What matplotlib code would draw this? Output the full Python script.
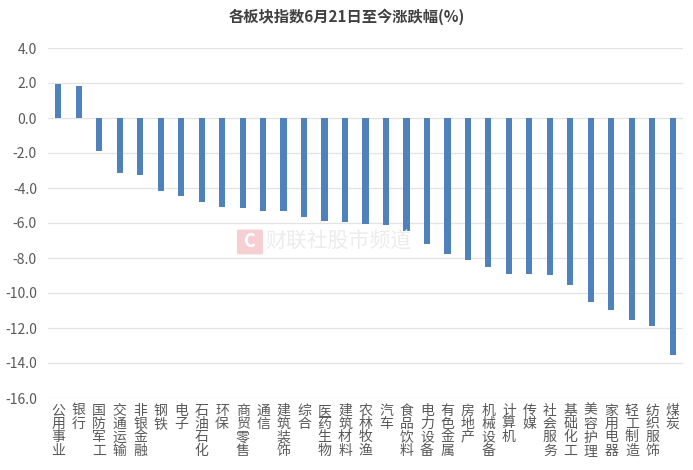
import matplotlib
matplotlib.use('Agg')
from matplotlib import pyplot as plt
from matplotlib.patches import FancyBboxPatch

plt.rcParams['font.family'] = ['Noto Sans CJK SC', 'DejaVu Sans']

sectors = ['公用事业', '银行', '国防军工', '交通运输', '非银金融', '钢铁', '电子',
           '石油石化', '环保', '商贸零售', '通信', '建筑装饰', '综合', '医药生物',
           '建筑材料', '农林牧渔', '汽车', '食品饮料', '电力设备', '有色金属',
           '房地产', '机械设备', '计算机', '传媒', '社会服务', '基础化工',
           '美容护理', '家用电器', '轻工制造', '纺织服饰', '煤炭']
changes = [1.93, 1.83, -1.87, -3.16, -3.28, -4.17, -4.46, -4.78, -5.07, -5.12,
           -5.30, -5.30, -5.68, -5.87, -5.95, -6.06, -6.11, -6.46, -7.20, -7.77,
           -8.11, -8.53, -8.91, -8.93, -8.95, -9.56, -10.53, -10.97, -11.54,
           -11.87, -13.56]
yticks = [4, 2, 0, -2, -4, -6, -8, -10, -12, -14, -16]

W, H = 693, 470
fig = plt.figure(figsize=(W / 100, H / 100), dpi=100)
ax = fig.add_axes([48 / W, 1 - 398 / H, 635 / W, 350 / H])

x = range(len(sectors))
ax.bar(x, changes, width=0.3, color='#4f81bd', zorder=3)

ax.set_ylim(-16, 4)
ax.set_xlim(-0.5, len(sectors) - 0.5)
ax.set_yticks(yticks)
ax.set_yticklabels(['%.1f' % v for v in yticks], fontsize=10, color='#595959')
ax.yaxis.grid(True, color='#e3e3e3', linewidth=0.9, zorder=0)
ax.set_xticks(list(x))
ax.set_xticklabels(['\n'.join(s) for s in sectors], fontsize=10,
                   color='#595959', va='top', linespacing=0.95)
ax.tick_params(axis='both', length=0)
ax.tick_params(axis='x', pad=4)
ax.tick_params(axis='y', pad=8)
for side in ['top', 'right', 'left', 'bottom']:
    ax.spines[side].set_visible(False)

fig.text(0.5, 1 - 17 / H, '各板块指数6月21日至今涨跌幅(%)', ha='center',
         va='center', fontsize=11, fontweight='bold', color='#404040')

# watermark
logo = FancyBboxPatch((239 / W, 1 - 253 / H), 22 / W, 22 / H,
                      boxstyle='round,pad=0.003', transform=fig.transFigure,
                      facecolor='#f6cfd3', edgecolor='none', zorder=1)
fig.patches.append(logo)
fig.text(250 / W, 1 - 242 / H, 'C', ha='center', va='center', fontsize=13,
         fontweight='bold', color='white')
fig.text(265 / W, 1 - 242 / H, '财联社股市频道', ha='left', va='center',
         fontsize=15, color='#ececec')

plt.savefig('out.png', dpi=100)
